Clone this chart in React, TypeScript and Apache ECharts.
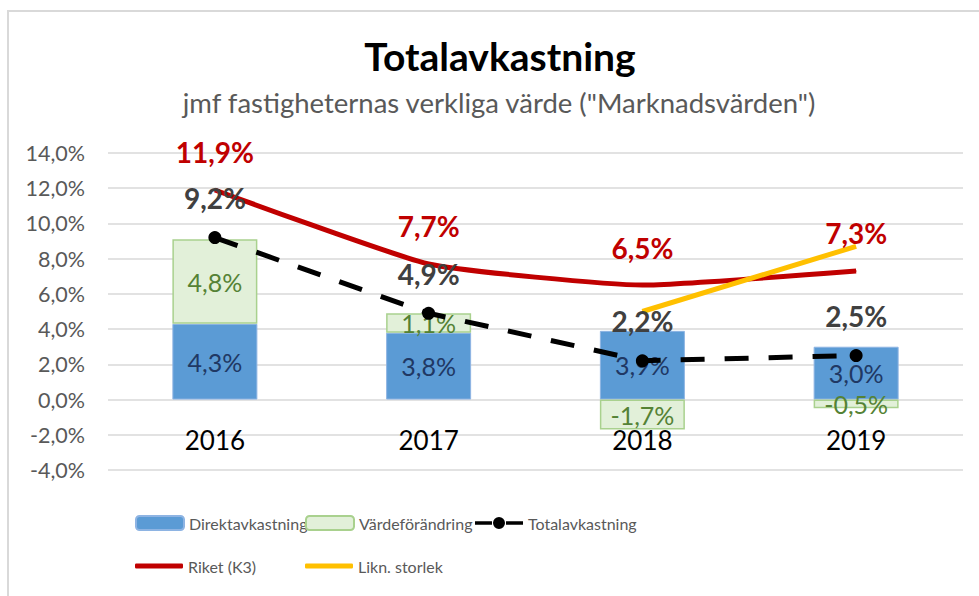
import React, { useEffect, useRef } from "react";
import * as echarts from "echarts";

const categories = ["2016", "2017", "2018", "2019"];
const direkt = [4.3, 3.8, 3.9, 3.0];
const varde = [4.8, 1.1, -1.7, -0.5];
const total = [9.2, 4.9, 2.2, 2.5];
const riket = [11.9, 7.7, 6.5, 7.3];
const likn: (number | null)[] = [null, null, 5.0, 8.7];
const yMin = -4;
const yMax = 14;
const yStep = 2;

const FONT = "Lato, 'Open Sans', sans-serif";
const fmt = (v: number) => v.toFixed(1).replace(".", ",") + "%";
const TOTAL_ICON =
  "path://M0,4.2 H17 V7.8 H0 Z M31,4.2 H48 V7.8 H31 Z M18,6 A6,6 0 1,0 30,6 A6,6 0 1,0 18,6 Z";

export default function App() {
  const ref = useRef<HTMLDivElement>(null);
  useEffect(() => {
    document.body.style.margin = "0";
    const chart = echarts.init(ref.current!, null, { renderer: "svg" });
    const legendText = { fontFamily: FONT, fontSize: 16, color: "#595959" };
    const mkLegend = (data: any[], left: number, top: number, itemHeight: number) => ({
      data,
      left,
      top,
      padding: 0,
      itemWidth: 48,
      itemHeight,
      itemGap: 0,
      textStyle: legendText,
    });
    chart.setOption({
      animation: false,
      backgroundColor: "#ffffff",
      textStyle: { fontFamily: FONT },
      graphic: [
        {
          type: "rect",
          shape: { x: 8, y: 11, width: 1000, height: 700 },
          style: { fill: "none", stroke: "#d9d9d9", lineWidth: 2 },
          silent: true,
        },
      ],
      title: [
        {
          text: "Totalavkastning",
          left: 500,
          top: 36,
          padding: 0,
          textAlign: "center",
          textStyle: { fontFamily: FONT, fontSize: 39, fontWeight: "bold", color: "#000000" },
        },
        {
          text: 'jmf fastigheternas verkliga värde ("Marknadsvärden")',
          left: 499,
          top: 88,
          padding: 0,
          textAlign: "center",
          textStyle: { fontFamily: FONT, fontSize: 27.5, fontWeight: "normal", color: "#595959" },
        },
      ],
      legend: [
        mkLegend(["Direktavkastning"], 135, 515, 14),
        mkLegend(["Värdeförändring"], 305, 515, 14),
        mkLegend([{ name: "Totalavkastning", icon: TOTAL_ICON }], 475, 515, 12),
        mkLegend([{ name: "Riket (K3)", icon: "roundRect" }], 135, 558, 5),
        mkLegend([{ name: "Likn. storlek", icon: "roundRect" }], 305, 558, 5),
      ],
      grid: { left: 108, right: 16, top: 153, height: 317, containLabel: false },
      xAxis: {
        type: "category",
        data: categories,
        position: "bottom",
        axisTick: { show: false },
        axisLine: { show: false, onZero: false },
        axisLabel: { fontFamily: FONT, fontSize: 26, color: "#000000", margin: -43 },
      },
      yAxis: {
        type: "value",
        min: yMin,
        max: yMax,
        interval: yStep,
        axisLine: { show: false },
        axisTick: { show: false },
        splitLine: { lineStyle: { color: "#d9d9d9", width: 1.5 } },
        axisLabel: {
          fontFamily: FONT,
          fontSize: 21.5,
          color: "#595959",
          margin: 23,
          formatter: (v: number) => fmt(v),
        },
      },
      series: [
        {
          name: "Direktavkastning",
          type: "bar",
          stack: "a",
          barWidth: 85,
          data: direkt,
          itemStyle: { color: "#5b9bd5", borderColor: "#8eb4e3", borderWidth: 1 },
          label: {
            show: true,
            position: "inside",
            fontFamily: FONT,
            fontSize: 25,
            color: "#203864",
            formatter: (p: any) => fmt(p.value),
          },
        },
        {
          name: "Värdeförändring",
          type: "bar",
          stack: "a",
          barWidth: 85,
          data: varde,
          itemStyle: { color: "#e2f0d9", borderColor: "#a9d18e", borderWidth: 1.5 },
          label: {
            show: true,
            position: "inside",
            fontFamily: FONT,
            fontSize: 25,
            color: "#548235",
            formatter: (p: any) => fmt(p.value),
          },
        },
        {
          name: "Totalavkastning",
          type: "line",
          data: total,
          symbol: "circle",
          symbolSize: 13,
          itemStyle: { color: "#000000" },
          lineStyle: { color: "#000000", width: 5, type: [24, 20], cap: "butt" },
          label: {
            show: true,
            position: "top",
            distance: 19,
            fontFamily: FONT,
            fontSize: 28,
            fontWeight: "bold",
            color: "#404040",
            formatter: (p: any) => fmt(p.value),
          },
          z: 5,
        },
        {
          name: "Riket (K3)",
          type: "line",
          data: riket,
          smooth: 0.15,
          symbol: "circle",
          symbolSize: 1,
          itemStyle: { color: "#c00000" },
          lineStyle: { color: "#c00000", width: 5 },
          label: {
            show: true,
            position: "top",
            distance: 23,
            fontFamily: FONT,
            fontSize: 28,
            fontWeight: "bold",
            color: "#c00000",
            formatter: (p: any) => fmt(p.value),
          },
          z: 4,
        },
        {
          name: "Likn. storlek",
          type: "line",
          data: likn,
          symbol: "none",
          itemStyle: { color: "#ffc000" },
          lineStyle: { color: "#ffc000", width: 5 },
          z: 4,
        },
      ],
    });
    return () => chart.dispose();
  }, []);
  return (
    <div
      ref={ref}
      style={{ position: "absolute", left: 0, top: 0, width: 979, height: 596 }}
    />
  );
}
